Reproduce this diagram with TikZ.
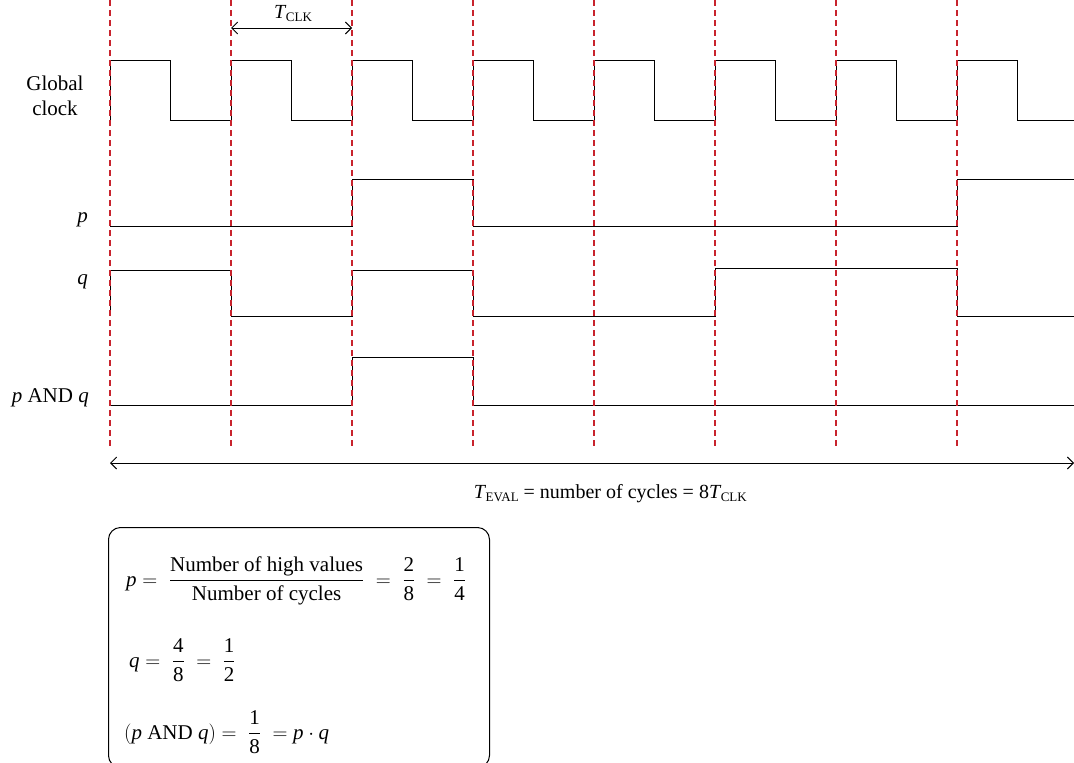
\documentclass[tikz,border=0pt]{standalone}
\usepackage{amsmath}
\usepackage{fontspec}
\setmainfont{Liberation Serif}
\usetikzlibrary{arrows.meta}
\definecolor{dashred}{RGB}{200,35,45}
\tikzset{
  txt/.style={font=\fontsize{21}{25}\selectfont, inner sep=0pt},
  dimtxt/.style={font=\fontsize{20}{24}\selectfont, inner sep=0pt},
  sig/.style={line width=1pt, black, line join=miter},
  guide/.style={dashred, line width=1.2pt, dash pattern=on 6pt off 4pt},
  dim/.style={line width=0.9pt, {Straight Barb[length=6pt,width=12pt]}-{Straight Barb[length=6pt,width=12pt]}}
}
\newcommand{\Tsub}[1]{\textit{T}\kern-0.5pt\raisebox{-3.5pt}{\fontsize{13}{13}\selectfont #1}}
\begin{document}
\begin{tikzpicture}[x=1pt,y=-1pt]
\useasboundingbox (0,0) rectangle (1074,763);

% signal labels
\node[txt, align=center] (lclk) at (55,96) {Global\\clock};
\node[txt, anchor=base east] (lp) at (88,222) {\textit{p}};
\node[txt, anchor=base east] (lq) at (88,284) {\textit{q}};
\node[txt, anchor=base east] (lpq) at (89,402) {\textit{p} AND \textit{q}};

% global clock
\foreach \k in {0,...,7}{
  \draw[sig] ({110+121*\k},120) -- ({110+121*\k},60) -- ({170.5+121*\k},60) -- ({170.5+121*\k},120) -- ({min(231+121*\k,1074)},120);
}
% p
\draw[sig] (110,226) -- (352,226) -- (352,179) -- (473,179) -- (473,226) -- (957,226) -- (957,179) -- (1074,179);
% q
\draw[sig] (110,316) -- (110,270) -- (231,270) -- (231,316) -- (352,316) -- (352,270) -- (473,270) -- (473,316) -- (715,316) -- (715,268) -- (957,268) -- (957,316) -- (1074,316);
% p AND q
\draw[sig] (110,405) -- (352,405) -- (352,357) -- (473,357) -- (473,405) -- (1074,405);

% guide lines
\foreach \k in {0,...,7}{
  \draw[guide] ({110+121*\k},0) -- ({110+121*\k},448);
}

% T_CLK
\coordinate (ca) at (231,28);
\coordinate (cb) at (352,28);
\draw[dim] (ca) -- (cb);
\node[dimtxt, anchor=base] (tclk) at (293,18) {\Tsub{CLK}};

% T_EVAL
\coordinate (ea) at (110,463);
\coordinate (eb) at (1074,463);
\draw[dim] (ea) -- (eb);
\node[dimtxt, anchor=base east] (teval) at (747,498) {\Tsub{EVAL} = number of cycles = 8\Tsub{CLK}};

% box
\node[draw, line width=1pt, rounded corners=12pt, anchor=north west, minimum width=381pt, minimum height=240pt, inner sep=0pt] (box) at (108,527) {};
\node[txt, anchor=base west] (eq1) at (126,586) {$\textit{p} = \;\dfrac{\text{Number of high values}}{\text{Number of cycles}}\; = \;\dfrac{\text{2}}{\text{8}}\; = \;\dfrac{\text{1}}{\text{4}}$};
\node[txt, anchor=base west] (eq2) at (129,667) {$\textit{q} = \;\dfrac{\text{4}}{\text{8}}\; = \;\dfrac{\text{1}}{\text{2}}$};
\node[txt, anchor=base west] (eq3) at (124,739) {$(\textit{p} \text{ AND } \textit{q}) = \;\dfrac{\text{1}}{\text{8}}\; = \textit{p}\cdot \textit{q}$};
\end{tikzpicture}
\end{document}
